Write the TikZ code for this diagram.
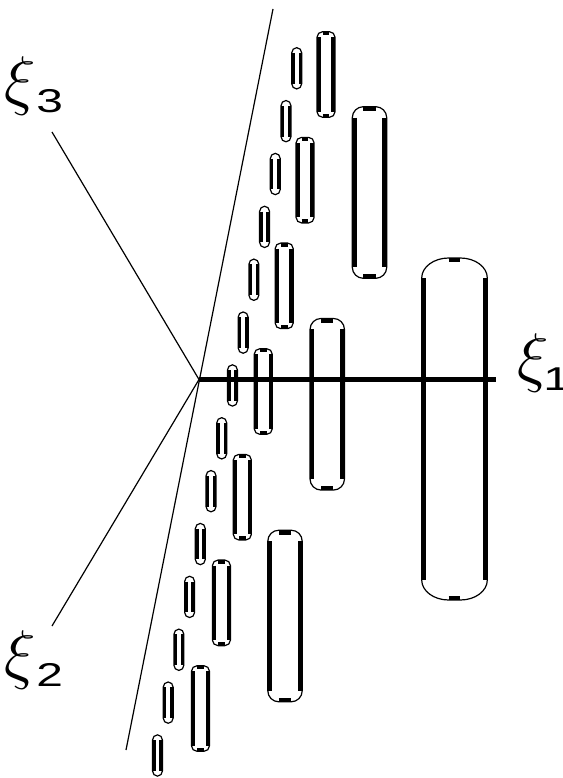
\RequirePackage{fix-cm}
\documentclass[tikz,border=0pt]{standalone}
\usepackage{fontspec}
\newfontfamily\digfont{Liberation Sans}
\newcommand\xilab[2][0pt]{{\fontsize{66}{66}\selectfont$\xi$}\kern#1\raisebox{-10.5pt}{\scalebox{1.45}[1]{\digfont\fontsize{33}{33}\selectfont #2}}}
\tikzset{
  thinline/.style={line width=1.2pt},
  lab/.style={inner sep=0pt, outer sep=0pt, anchor=base west},
}
% cx cy w h rx ry lw
\newcommand\capsu[7]{%
  \pgfmathsetmacro\cX{#1}%
  \pgfmathsetmacro\cY{#2}%
  \pgfmathsetmacro\cL{\cX-(#3)/2}%
  \pgfmathsetmacro\cR{\cX+(#3)/2}%
  \pgfmathsetmacro\cT{\cY-(#4)/2}%
  \pgfmathsetmacro\cB{\cY+(#4)/2}%
  \draw[thinline] (\cL,\cT+#6) arc[start angle=180,end angle=270,x radius=#5,y radius=#6]
     -- (\cR-#5,\cT) arc[start angle=270,end angle=360,x radius=#5,y radius=#6]
     -- (\cR,\cB-#6) arc[start angle=0,end angle=90,x radius=#5,y radius=#6]
     -- (\cL+#5,\cB) arc[start angle=90,end angle=180,x radius=#5,y radius=#6]
     -- cycle;
  \draw[line width=#7pt] (\cL+#7/2,\cT+#6) -- (\cL+#7/2,\cB-#6)
     (\cR-#7/2,\cT+#6) -- (\cR-#7/2,\cB-#6)
     (\cL+#5,\cT+#7/2) -- (\cR-#5,\cT+#7/2)
     (\cL+#5,\cB-#7/2) -- (\cR-#5,\cB-#7/2);
}
\begin{document}
\begin{tikzpicture}[x=1pt,y=-1pt]
\useasboundingbox (0,0) rectangle (562,778);
% axes
\coordinate (O) at (199,379.5);
\coordinate (e1) at (496,379.5);
\coordinate (e2) at (52,626);
\coordinate (e3) at (52,132);
\coordinate (sT) at (273,9);
\coordinate (sB) at (126,750);
\draw[thinline] (O) -- (e3);
\draw[thinline] (O) -- (e2);
\draw[thinline] (sT) -- (sB);
% capsules
\foreach \i in {0,...,13} {\capsu{296.7-10.71*\i}{68.3+52.86*\i}{10}{41.3}{5}{5.3}{3.2}}
\foreach \i in {0,...,6} {\capsu{326-20.92*\i}{74.5+105.67*\i}{18}{85.6}{5.6}{5.5}{3.7}}
\foreach \i in {0,1,2} {\capsu{369.5-42.25*\i}{192.5+211.75*\i}{34.4}{171.6}{11}{11}{4.3}}
\capsu{454.5}{429}{65.6}{342}{27}{20}{4.3}
\draw[line width=4.3pt] (O) -- (e1);
% labels
\node[lab] (xi3) at (5,102.5) {\xilab{3}};
\node[lab] (xi2) at (5,676) {\xilab{2}};
\node[lab] (xi1) at (517,379.5) {\xilab[-5pt]{1}};
\end{tikzpicture}
\end{document}
